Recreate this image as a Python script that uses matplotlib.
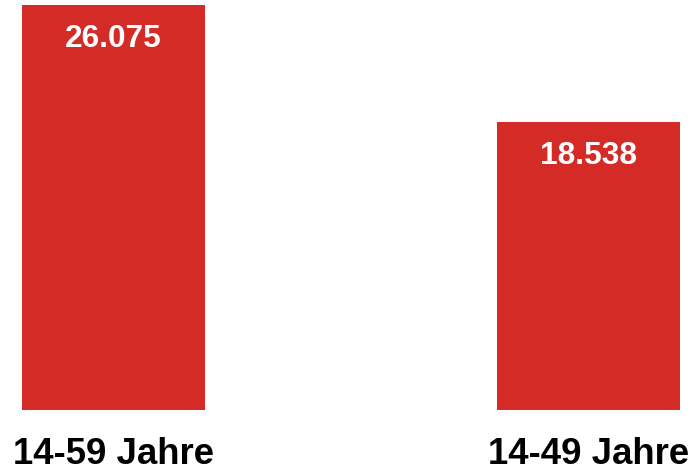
import matplotlib
matplotlib.use("Agg")
import matplotlib.pyplot as plt

# data
categories = ['14-59 Jahre', '14-49 Jahre']
values = [26075, 18538]
value_labels = ['26.075', '18.538']

bar_color = '#D42B27'

plt.rcParams['font.family'] = ['Liberation Sans', 'DejaVu Sans']

fig = plt.figure(figsize=(6.94, 4.72), dpi=100)
ax = fig.add_axes([22 / 694, 1 - 410 / 472, 658 / 694, 405 / 472])

x = list(range(len(categories)))
ax.bar(x, values, width=0.385, color=bar_color)
ax.set_xlim(-0.1926, 1.1926)
ax.set_ylim(0, max(values))

for xi, v, lbl in zip(x, values, value_labels):
    ax.annotate(lbl, xy=(xi, v), xytext=(0, -30), textcoords='offset points',
                ha='center', va='baseline', color='white',
                fontsize=22.8, fontweight='bold')

ax.set_xticks(x)
ax.set_xticklabels(categories, fontsize=26.4, fontweight='bold')
ax.tick_params(axis='x', length=0, pad=39)
for t in ax.get_xticklabels():
    t.set_verticalalignment('baseline')
ax.set_yticks([])
for s in ax.spines.values():
    s.set_visible(False)

fig.savefig('out.png', dpi=100)
